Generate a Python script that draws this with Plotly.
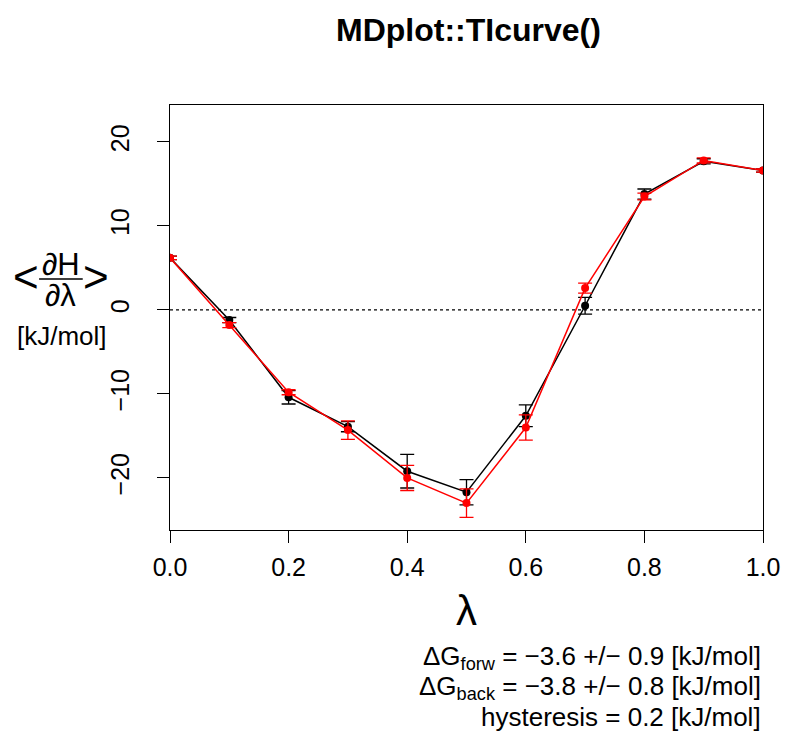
import plotly.graph_objects as go

lambdas = [0.0, 0.1, 0.2, 0.3, 0.4, 0.5, 0.6, 0.7, 0.8, 0.9, 1.0]
forw_mean = [6.2, -1.2, -10.4, -13.9, -19.2, -21.7, -12.6, 0.5, 13.8, 17.7, 16.6]
forw_err = [0.2, 0.3, 0.8, 0.6, 2.0, 1.5, 1.3, 1.0, 0.6, 0.3, 0.2]
back_mean = [6.2, -1.8, -9.8, -14.3, -20.0, -23.0, -14.0, 2.6, 13.5, 17.8, 16.6]
back_err = [0.2, 0.3, 0.3, 1.1, 1.5, 1.7, 1.5, 0.6, 0.4, 0.3, 0.2]
x_ticks = [0.0, 0.2, 0.4, 0.6, 0.8, 1.0]
y_ticks = [-20, -10, 0, 10, 20]

FONT = "Liberation Sans, Arial, sans-serif"

# plot box in window pixels (page body adds an 8px offset)
L, R, T, B = 170, 768, 105, 530


def px(x):
    return (x - L) / (R - L)


def py(y):
    return (B - y) / (B - T)


fig = go.Figure()

# zero line
fig.add_trace(go.Scatter(
    x=[0, 1], y=[0, 0], mode="lines",
    line=dict(color="black", width=1.2, dash="dot"),
    showlegend=False, hoverinfo="skip"))

for mean, err, col in [(forw_mean, forw_err, "black"), (back_mean, back_err, "#ff0000")]:
    fig.add_trace(go.Scatter(
        x=lambdas, y=mean, mode="lines+markers",
        line=dict(color=col, width=1.5),
        marker=dict(color=col, size=8),
        error_y=dict(type="data", array=err, color=col, thickness=1.3, width=7),
        showlegend=False))

W, H = 784, 731
fig.update_layout(
    width=W, height=H,
    margin=dict(l=L - 8, r=W - (R - 8), t=T - 8, b=H - (B - 8)),
    plot_bgcolor="white", paper_bgcolor="white",
    font=dict(family=FONT, color="black", size=22),
    xaxis=dict(range=[0, 1], tickvals=x_ticks, ticktext=["%.1f" % v for v in x_ticks],
               ticks="outside", ticklen=12, tickwidth=1.2, tickcolor="black",
               ticklabelstandoff=3,
               showline=True, linecolor="black", linewidth=1.2, mirror=True,
               showgrid=False, zeroline=False, tickfont=dict(size=25)),
    yaxis=dict(range=[-26.2, 24.4], tickvals=y_ticks,
               ticktext=["\u221220", "\u221210", "0", "10", "20"],
               tickangle=-90, ticks="outside", ticklen=12, tickwidth=1.2, tickcolor="black",
               ticklabelstandoff=18,
               showline=True, linecolor="black", linewidth=1.2, mirror=True,
               showgrid=False, zeroline=False, tickfont=dict(size=25)),
)

# title, y axis label <dH/dlambda> [kJ/mol], x axis label
ann = [
    dict(text="<b>MDplot::TIcurve()</b>", x=471, y=30, size=32),
    dict(text="<", x=25, y=276, size=44),
    dict(text=">", x=95, y=276, size=44),
    dict(text="\u2202H", x=60, y=264, size=31),
    dict(text="\u2202\u03bb", x=60, y=295, size=31),
    dict(text="[kJ/mol]", x=61, y=336, size=26),
    dict(text="\u03bb", x=469, y=610, size=42),
]
for a in ann:
    fig.add_annotation(text=a["text"], x=px(a["x"]), y=py(a["y"]),
                       xref="paper", yref="paper", xanchor="center", yanchor="middle",
                       showarrow=False, font=dict(size=a["size"]))
fig.add_shape(type="line", xref="paper", yref="paper",
              x0=px(38), x1=px(82), y0=py(279), y1=py(279),
              line=dict(color="black", width=1.5))

stats = [
    "\u0394G<sub>forw</sub> = \u22123.6 +/\u2212 0.9 [kJ/mol]",
    "\u0394G<sub>back</sub> = \u22123.8 +/\u2212 0.8 [kJ/mol]",
    "hysteresis = 0.2 [kJ/mol]",
]
for i, s in enumerate(stats):
    fig.add_annotation(text=s, x=px(768), y=py(657 + 30 * i),
                       xref="paper", yref="paper", xanchor="right", yanchor="middle",
                       showarrow=False, font=dict(size=26))

fig.write_html("out.html")
